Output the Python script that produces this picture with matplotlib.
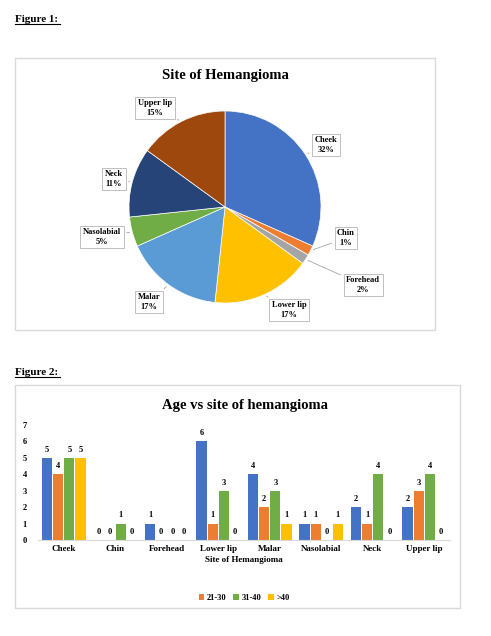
import matplotlib
matplotlib.use("Agg")
import matplotlib.pyplot as plt
import numpy as np
from matplotlib.patches import Rectangle

plt.rcParams['font.family'] = ['Liberation Serif', 'DejaVu Serif']
plt.rcParams['font.weight'] = 'bold'

sites = ["Cheek", "Chin", "Forehead", "Lower lip", "Malar", "Nasolabial", "Neck", "Upper lip"]
pie_counts = [19, 1, 1, 10, 10, 3, 7, 9]
pie_pct = ["32%", "1%", "2%", "17%", "17%", "5%", "11%", "15%"]
pie_colors = ["#4472C4", "#ED7D31", "#A5A5A5", "#FFC000", "#5B9BD5", "#70AD47", "#264478", "#9E480E"]

groups = ["_10-20", "21-30", "31-40", ">40"]
v_10_20 = [5, 0, 1, 6, 4, 1, 2, 2]
v_21_30 = [4, 0, 0, 1, 2, 1, 1, 3]
v_31_40 = [5, 1, 0, 3, 3, 0, 4, 4]
v_40 = [5, 0, 0, 0, 1, 1, 0, 0]
bar_colors = ["#4472C4", "#ED7D31", "#70AD47", "#FFC000"]

W, H = 491, 636
fig = plt.figure(figsize=(W/100, H/100), dpi=100)

def fx(x): return x / W
def fy(y): return 1 - y / H

fig.text(fx(15), fy(22), "Figure 1:", fontsize=8, fontweight='bold', underline=True) if False else None
for txt, y in [("Figure 1:", 22), ("Figure 2:", 375)]:
    t = fig.text(fx(15), fy(y), txt, fontsize=8, fontweight='bold')
    fig.add_artist(plt.Line2D([fx(15), fx(60)], [fy(y + 2), fy(y + 2)], color='black', lw=0.8))

for (x0, y0, x1, y1) in [(15, 58, 435, 330), (15, 385, 460, 608)]:
    fig.add_artist(Rectangle((fx(x0), fy(y1)), fx(x1 - x0), (y1 - y0) / H,
                             transform=fig.transFigure, fill=False, ec='#d9d9d9', lw=1))

# Pie
cx, cy, r = 225, 207, 96
axp = fig.add_axes([fx(cx - r), fy(cy + r), 2 * r / W, 2 * r / H])
wedges, _ = axp.pie(pie_counts, colors=pie_colors, startangle=90, counterclock=False,
                    wedgeprops=dict(linewidth=0.5, edgecolor='white'))
axp.set_aspect('equal')
axp.set_xlim(-1, 1); axp.set_ylim(-1, 1)
label_px = [(326, 145), (346, 238), (363, 285), (289, 310), (149, 302), (102, 237), (114, 179), (155, 108)]
for w, name, pct, (lx, ly) in zip(wedges, sites, pie_pct, label_px):
    ang = np.deg2rad((w.theta1 + w.theta2) / 2)
    ex, ey = np.cos(ang), np.sin(ang)
    tx, ty = (lx - cx) / r, (cy - ly) / r
    axp.annotate(f"{name}\n{pct}", xy=(ex, ey), xytext=(tx, ty), ha='center', va='center',
                 fontsize=6, fontweight='bold', annotation_clip=False,
                 bbox=dict(boxstyle='square,pad=0.3', fc='white', ec='#bfbfbf', lw=0.7),
                 arrowprops=dict(arrowstyle='-', color='#a6a6a6', lw=0.6))
fig.text(fx(225), fy(75), "Site of Hemangioma", ha='center', va='center', fontsize=10.5, fontweight='bold')

# Bars
axb = fig.add_axes([fx(38), fy(540), 412 / W, 115 / H])
x = np.arange(len(sites))
bw = 0.2
for i, (vals, col) in enumerate(zip([v_10_20, v_21_30, v_31_40, v_40], bar_colors)):
    pos = x + (i - 1.5) * 0.215
    bars = axb.bar(pos, vals, bw, color=col, label=groups[i])
    for p, v in zip(pos, vals):
        axb.text(p, v + 0.25, str(v), ha='center', va='bottom', fontsize=6, fontweight='bold')
axb.set_xlim(-0.5, 7.5)
axb.set_ylim(0, 7)
axb.set_yticks(range(8))
axb.set_xticks(x)
axb.set_xticklabels(sites, fontsize=6.5, fontweight='bold')
axb.tick_params(axis='y', labelsize=6, length=0, pad=8)
axb.tick_params(axis='x', length=0)
for s in ['top', 'right', 'left']:
    axb.spines[s].set_visible(False)
axb.spines['bottom'].set_color('#d9d9d9')
axb.set_xlabel("Site of Hemangioma", fontsize=6.5, fontweight='bold', labelpad=2)
fig.text(fx(245), fy(405), "Age vs site of hemangioma", ha='center', va='center', fontsize=10.5, fontweight='bold')
leg = axb.legend(loc='center', bbox_to_anchor=(0.5, -0.5), ncol=4, frameon=False, fontsize=6,
                 handlelength=0.7, handleheight=0.7, columnspacing=0.8, handletextpad=0.3,
                 prop={'weight': 'bold', 'size': 6})

fig.savefig("out.png", dpi=100, facecolor='white')
